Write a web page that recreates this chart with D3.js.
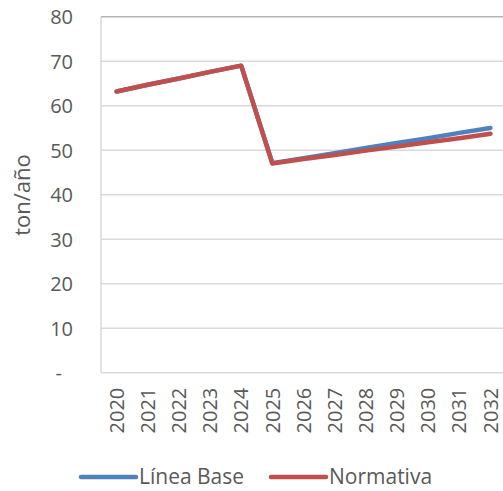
<!DOCTYPE html>
<html>
<head>
<meta charset="utf-8">
<script src="https://cdn.jsdelivr.net/npm/d3@7"></script>
<style>
  html, body { margin: 0; padding: 0; background: #fff; }
  svg text { font-family: "Open Sans", "Liberation Sans", sans-serif; fill: #595959; }
</style>
</head>
<body>
<svg id="chart" width="503" height="491"></svg>
<script>
// Years on the category axis
const years = ["2020","2021","2022","2023","2024","2025","2026","2027","2028","2029","2030","2031","2032"];
// Emissions, ton/año
const lineaBase = [63.2, 64.7, 66.1, 67.6, 69.0, 47.1, 48.2, 49.3, 50.5, 51.6, 52.7, 53.9, 55.0];
const normativa = [63.2, 64.7, 66.1, 67.6, 69.0, 47.0, 48.0, 48.9, 49.9, 50.8, 51.8, 52.7, 53.7];
// Value-axis ticks and their labels
const yTicks = [0, 10, 20, 30, 40, 50, 60, 70, 80];
const yTickLabels = ["-", "10", "20", "30", "40", "50", "60", "70", "80"];
const seriesNames = ["Línea Base", "Normativa"];
const seriesColors = ["#4F81BD", "#C0504D"];

const svg = d3.select("#chart");
const plot = { left: 101, right: 506, top: 16.7, bottom: 372.7 };

const x = d3.scaleBand().domain(years).range([plot.left, plot.right]);
const y = d3.scaleLinear().domain([0, 80]).range([plot.bottom, plot.top]);

// Horizontal gridlines
svg.append("g")
  .selectAll("line")
  .data(yTicks.filter(d => d > 0))
  .join("line")
  .attr("x1", plot.left).attr("x2", plot.right)
  .attr("y1", d => y(d)).attr("y2", d => y(d))
  .attr("stroke", d => d === 80 ? "#B4B4B4" : "#D9D9D9")
  .attr("stroke-width", 1.5);

// Left and bottom axis lines
svg.append("line")
  .attr("x1", plot.left).attr("x2", plot.left)
  .attr("y1", plot.top).attr("y2", plot.bottom)
  .attr("stroke", "#D9D9D9").attr("stroke-width", 1.5);
svg.append("line")
  .attr("x1", plot.left).attr("x2", plot.right)
  .attr("y1", plot.bottom).attr("y2", plot.bottom)
  .attr("stroke", "#D9D9D9").attr("stroke-width", 1.5);

// Value axis labels
const yAxis = d3.axisLeft(y)
  .tickValues(yTicks)
  .tickFormat((d, i) => yTickLabels[i])
  .tickSize(0)
  .tickPadding(0);
const gy = svg.append("g").attr("transform", "translate(73,0)").call(yAxis);
gy.select(".domain").remove();
gy.selectAll("text")
  .style("font-size", "20px")
  .attr("dy", "0.35em")
  .attr("dx", d => d === 0 ? -11 : 0);

// Category axis labels, rotated
const xAxis = d3.axisBottom(x).tickSize(0).tickPadding(0);
const gx = svg.append("g").attr("transform", `translate(0,${plot.bottom})`).call(xAxis);
gx.select(".domain").remove();
gx.selectAll("text")
  .style("font-size", "20px")
  .attr("text-anchor", "end")
  .attr("transform", "rotate(-90)")
  .attr("x", -15)
  .attr("y", 0)
  .attr("dy", "0.36em");

// Axis title
svg.append("text")
  .attr("transform", "translate(30,195) rotate(-90)")
  .attr("text-anchor", "middle")
  .style("font-size", "22px")
  .text("ton/año");

// Series lines
const line = d3.line()
  .x((d, i) => x(years[i]) + x.bandwidth() / 2)
  .y(d => y(d));

[lineaBase, normativa].forEach((vals, k) => {
  svg.append("path")
    .datum(vals)
    .attr("d", line)
    .attr("fill", "none")
    .attr("stroke", seriesColors[k])
    .attr("stroke-width", 4.5)
    .attr("stroke-linejoin", "round")
    .attr("stroke-linecap", "round");
});

// Legend
const legendItems = [
  { name: seriesNames[0], color: seriesColors[0], x0: 81 },
  { name: seriesNames[1], color: seriesColors[1], x0: 271 }
];
const lg = svg.append("g");
legendItems.forEach(it => {
  lg.append("line")
    .attr("x1", it.x0).attr("x2", it.x0 + 55)
    .attr("y1", 477).attr("y2", 477)
    .attr("stroke", it.color).attr("stroke-width", 4.5)
    .attr("stroke-linecap", "round");
  lg.append("text")
    .attr("x", it.x0 + 58).attr("y", 477)
    .attr("dy", "0.35em")
    .style("font-size", "21px")
    .text(it.name);
});
</script>
</body>
</html>
